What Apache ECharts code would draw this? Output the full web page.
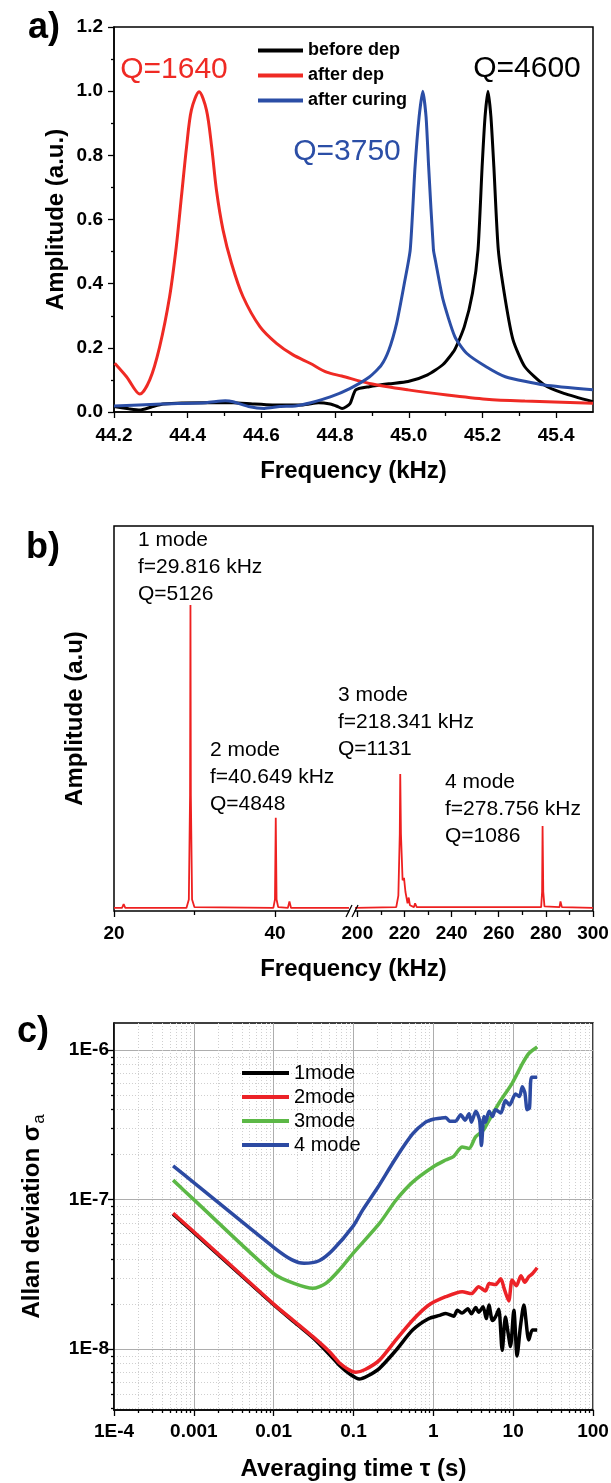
<!DOCTYPE html>
<html>
<head>
<meta charset="utf-8">
<title>Resonance spectra and Allan deviation</title>
<script src="https://cdn.jsdelivr.net/npm/echarts@6.0.0/dist/echarts.min.js"></script>
<style>
html, body { margin: 0; padding: 0; background: #fff; }
#chart { width: 611px; height: 1483px; }
</style>
</head>
<body>
<div id="chart"></div>
<script>
// ---------------------------------------------- data
// a) amplitude vs frequency (kHz)
var aBeforeDep = [[44.2,0.017],[44.24,0.01],[44.27,0.006],[44.3,0.015],[44.333,0.025],[44.45,0.029],[44.523,0.029],[44.576,0.025],[44.63,0.022],[44.713,0.022],[44.755,0.029],[44.787,0.025],[44.805,0.018],[44.819,0.011],[44.84,0.025],[44.856,0.069],[44.893,0.079],[44.946,0.088],[44.998,0.095],[45.051,0.116],[45.093,0.148],[45.125,0.195],[45.151,0.267],[45.173,0.371],[45.188,0.506],[45.199,0.763],[45.207,0.92],[45.215,1.0],[45.223,0.92],[45.231,0.763],[45.243,0.505],[45.262,0.35],[45.283,0.225],[45.315,0.141],[45.368,0.084],[45.421,0.058],[45.5,0.032]];
var aAfterDep = [[44.202,0.152],[44.234,0.11],[44.27,0.056],[44.297,0.1],[44.324,0.204],[44.351,0.36],[44.369,0.515],[44.383,0.671],[44.397,0.827],[44.41,0.941],[44.431,0.998],[44.451,0.941],[44.465,0.827],[44.478,0.692],[44.496,0.567],[44.519,0.463],[44.55,0.36],[44.596,0.266],[44.641,0.214],[44.686,0.178],[44.732,0.152],[44.777,0.124],[44.818,0.112],[44.893,0.089],[44.998,0.069],[45.104,0.053],[45.21,0.04],[45.315,0.034],[45.5,0.027]];
var aAfterCuring = [[44.2,0.019],[44.33,0.025],[44.45,0.029],[44.502,0.035],[44.523,0.032],[44.565,0.017],[44.608,0.011],[44.65,0.017],[44.692,0.019],[44.734,0.029],[44.787,0.047],[44.84,0.073],[44.893,0.109],[44.925,0.145],[44.946,0.193],[44.967,0.276],[44.988,0.401],[45.004,0.506],[45.017,0.763],[45.028,0.919],[45.038,1.0],[45.047,0.919],[45.054,0.763],[45.067,0.505],[45.072,0.474],[45.093,0.35],[45.125,0.235],[45.157,0.183],[45.21,0.141],[45.262,0.11],[45.368,0.084],[45.5,0.069]];
var aXMajor = [44.2, 44.4, 44.6, 44.8, 45.0, 45.2, 45.4];
var aXMinor = [44.3, 44.5, 44.7, 44.9, 45.1, 45.3];

// b) spectrum, split frequency axis (kHz)
var bLow = [[20,0.008],[21.0,0.008],[21.2,0.018],[21.4,0.008],[29.0,0.008],[29.3,0.03],[29.45,0.3],[29.5,0.795],[29.55,0.3],[29.7,0.03],[30.0,0.01],[39.8,0.008],[40.0,0.03],[40.1,0.242],[40.2,0.03],[40.4,0.01],[41.6,0.008],[41.8,0.025],[42.0,0.008],[49.2,0.008]];
var bHigh = [[199,0.008],[216.5,0.01],[217.4,0.04],[218.0,0.2],[218.2,0.356],[218.5,0.2],[219.2,0.08],[219.8,0.086],[220.4,0.05],[221.3,0.02],[221.8,0.035],[222.3,0.015],[224.0,0.01],[224.5,0.02],[225.2,0.01],[278.0,0.01],[278.4,0.05],[278.6,0.221],[278.9,0.05],[279.4,0.012],[285.8,0.01],[286.2,0.025],[286.8,0.01],[300,0.008]];
var bLowMajor = [20, 40];
var bLowMinor = [30];
var bHighMajor = [200, 220, 240, 260, 280, 300];
var bHighMinor = [210, 230, 250, 270, 290];

// c) Allan deviation vs averaging time (s)
var c1mode = [[5.5e-4,8.0e-8],[1e-3,6.0e-8],[0.01,1.98e-8],[0.02,1.45e-8],[0.031,1.19e-8],[0.05,9.2e-9],[0.068,7.7e-9],[0.09,6.8e-9],[0.118,6.3e-9],[0.15,6.6e-9],[0.21,7.4e-9],[0.34,9.8e-9],[0.55,1.34e-8],[0.88,1.6e-8],[1.2,1.68e-8],[1.43,1.73e-8],[1.8,1.66e-8],[2.0,1.82e-8],[2.3,1.74e-8],[2.7,1.86e-8],[3.0,1.72e-8],[3.4,1.9e-8],[3.7,1.76e-8],[4.2,1.92e-8],[4.6,1.6e-8],[4.97,1.97e-8],[5.5,1.55e-8],[6.0,1.64e-8],[6.6,1.85e-8],[7.29,9.8e-9],[8.0,1.64e-8],[8.6,1.3e-8],[9.26,1.04e-8],[10.2,1.82e-8],[11.2,9.0e-9],[12.3,1.4e-8],[13.6,1.97e-8],[15.7,1.15e-8],[17.4,1.34e-8],[20,1.34e-8]];
var c2mode = [[5.5e-4,8.1e-8],[1e-3,6.1e-8],[0.01,2.0e-8],[0.02,1.47e-8],[0.031,1.21e-8],[0.05,9.6e-9],[0.068,8.0e-9],[0.09,7.2e-9],[0.107,7.0e-9],[0.14,7.3e-9],[0.21,8.4e-9],[0.34,1.15e-8],[0.55,1.56e-8],[0.88,1.97e-8],[1.43,2.24e-8],[2.3,2.42e-8],[3.0,2.35e-8],[3.7,2.61e-8],[4.5,2.45e-8],[5.0,2.75e-8],[6.0,2.7e-8],[7.0,2.95e-8],[7.7,2.55e-8],[8.8,2.1e-8],[9.7,2.9e-8],[11,2.65e-8],[12.5,3.1e-8],[14,2.8e-8],[15.7,3.05e-8],[17.5,3.2e-8],[20,3.5e-8]];
var c3mode = [[5.5e-4,1.35e-7],[1e-3,1.0e-7],[0.01,3.2e-8],[0.018,2.75e-8],[0.031,2.55e-8],[0.045,2.75e-8],[0.067,3.4e-8],[0.1,4.4e-8],[0.21,6.9e-8],[0.34,9.9e-8],[0.55,1.31e-7],[1.0,1.66e-7],[1.43,1.84e-7],[1.8,1.95e-7],[2.3,2.25e-7],[2.8,2.2e-7],[3.38,2.63e-7],[4.2,2.9e-7],[5.0,3.4e-7],[6.6,4.4e-7],[9.7,6.0e-7],[13,8.1e-7],[15.7,9.5e-7],[20,1.05e-6]];
var c4mode = [[5.5e-4,1.68e-7],[1e-3,1.3e-7],[0.01,4.8e-8],[0.017,3.95e-8],[0.024,3.75e-8],[0.037,3.9e-8],[0.055,4.6e-8],[0.1,6.7e-8],[0.13,8.5e-8],[0.2,1.2e-7],[0.34,1.9e-7],[0.55,2.75e-7],[0.8,3.3e-7],[1.0,3.45e-7],[1.2,3.5e-7],[1.43,3.55e-7],[1.6,3.35e-7],[1.9,3.35e-7],[2.2,3.7e-7],[2.5,3.4e-7],[2.8,3.75e-7],[3.0,3.3e-7],[3.4,3.9e-7],[3.8,3.4e-7],[4.0,2.3e-7],[4.3,3.6e-7],[4.5,3.3e-7],[5.0,3.9e-7],[5.5,3.6e-7],[6.0,4.0e-7],[7.0,3.8e-7],[8.0,4.6e-7],[9.0,4.3e-7],[10.7,5.1e-7],[12,4.9e-7],[13,5.7e-7],[14,5.2e-7],[15,4.0e-7],[16,4.1e-7],[17,6.6e-7],[20,6.6e-7]];
var cXMajor = [1e-4, 1e-3, 1e-2, 0.1, 1, 10, 100];
var cXLabels = ['1E-4', '0.001', '0.01', '0.1', '1', '10', '100'];
var cYMajor = [1e-8, 1e-7, 1e-6];
var cYLabels = ['1E-8', '1E-7', '1E-6'];
var cMinorSteps = [2, 3, 4, 5, 6, 7, 8, 9];
var cXDecades = [-4, -3, -2, -1, 0, 1];
var cYDecades = [-9, -8, -7];

// ---------------------------------------------- helpers
var FONT = '"Liberation Sans", Arial, Helvetica, sans-serif';
var cYMin = 3.91e-9, cYMax = 1.52e-6;

function minorValues(decades, lo, hi) {
    var out = [];
    decades.forEach(function (d) {
        cMinorSteps.forEach(function (m) {
            var v = m * Math.pow(10, d);
            if (v > lo && v < hi) out.push(v);
        });
    });
    return out;
}
var cXMinor = minorValues(cXDecades, 1e-4, 100);
var cYMinor = minorValues(cYDecades, cYMin, cYMax);

function axis(gridIndex, extra) {
    var o = {
        gridIndex: gridIndex,
        nameMoveOverlap: false,
        axisLine: { show: false, onZero: false },
        axisTick: { show: false },
        axisLabel: { show: false },
        splitLine: { show: false },
        minorTick: { show: false },
        minorSplitLine: { show: false }
    };
    for (var k in extra) o[k] = extra[k];
    return o;
}
function ticks(values, len) {
    return { show: true, inside: false, length: len, customValues: values,
             lineStyle: { color: '#000', width: 1.3 } };
}
function labels(values, margin, formatter) {
    return { show: true, customValues: values, margin: margin, color: '#000',
             fontSize: 19, fontWeight: 'bold', fontFamily: FONT, formatter: formatter };
}
function title(size) {
    return { fontSize: size, fontWeight: 'bold', color: '#000', fontFamily: FONT };
}
var blackLine = { show: true, onZero: false, lineStyle: { color: '#000', width: 1.5 } };
var frame = { show: true, borderColor: '#000', borderWidth: 1.5, backgroundColor: 'transparent' };
function fixed1(v) { return v.toFixed(1); }

// ---------------------------------------------- chart
var myChart = echarts.init(document.getElementById('chart'));
var option = {
    backgroundColor: '#fff',
    animation: false,
    grid: [
        Object.assign({ left: 114, top: 27, width: 479, height: 385, outerBoundsMode: 'none' }, frame),
        { left: 114, top: 526, width: 235, height: 385, outerBoundsMode: 'none' },
        { left: 355, top: 526, width: 238, height: 385, outerBoundsMode: 'none' },
        Object.assign({ left: 114, top: 526, width: 479, height: 385, outerBoundsMode: 'none' }, frame),
        Object.assign({ left: 114, top: 1023, width: 479, height: 387, outerBoundsMode: 'none' }, frame)
    ],
    xAxis: [
        axis(0, { type: 'value', position: 'bottom', min: 44.2, max: 45.5, axisLine: blackLine,
            axisTick: ticks(aXMajor, 6), axisLabel: labels(aXMajor, 14, fixed1),
            name: 'Frequency (kHz)', nameLocation: 'middle', nameGap: 47, nameTextStyle: title(24) }),
        axis(0, { type: 'value', position: 'bottom', min: 44.2, max: 45.5, axisTick: ticks(aXMinor, 4) }),
        axis(1, { type: 'value', position: 'bottom', min: 20, max: 49.2,
            axisTick: ticks(bLowMajor, 6), axisLabel: labels(bLowMajor, 13) }),
        axis(1, { type: 'value', position: 'bottom', min: 20, max: 49.2, axisTick: ticks(bLowMinor, 4) }),
        axis(2, { type: 'value', position: 'bottom', min: 199, max: 300,
            axisTick: ticks(bHighMajor, 6), axisLabel: labels(bHighMajor, 13) }),
        axis(2, { type: 'value', position: 'bottom', min: 199, max: 300, axisTick: ticks(bHighMinor, 4) }),
        axis(3, { type: 'value', position: 'bottom', min: 0, max: 1,
            name: 'Frequency (kHz)', nameLocation: 'middle', nameGap: 46, nameTextStyle: title(24) }),
        axis(4, { type: 'log', logBase: 10, position: 'bottom', min: 1e-4, max: 100, axisLine: blackLine,
            axisTick: ticks(cXMajor, 6),
            axisLabel: labels(cXMajor, 12, function (v) { return cXLabels[Math.round(Math.log10(v)) + 4]; }),
            splitLine: { show: true, lineStyle: { color: '#adadad', width: 1 } },
            name: 'Averaging time \u03c4 (s)', nameLocation: 'middle', nameGap: 47, nameTextStyle: title(24) }),
        axis(4, { type: 'log', logBase: 10, position: 'bottom', min: 1e-4, max: 100,
            axisTick: ticks(cXMinor, 3),
            splitLine: { show: true, lineStyle: { color: '#cfcfcf', width: 1, type: [1, 2] } } })
    ],
    yAxis: [
        axis(0, { type: 'value', position: 'left', min: 0, max: 1.2, interval: 0.2, axisLine: blackLine,
            axisTick: { show: true, inside: false, length: 6, lineStyle: { color: '#000', width: 1.3 } },
            minorTick: { show: true, splitNumber: 2, length: 3, lineStyle: { color: '#000', width: 1.3 } },
            axisLabel: { show: true, margin: 11, color: '#000', fontSize: 19, fontWeight: 'bold',
                fontFamily: FONT, formatter: fixed1 },
            name: 'Amplitude (a.u.)', nameLocation: 'middle', nameGap: 46, nameTextStyle: title(24) }),
        axis(1, { type: 'value', position: 'left', min: 0, max: 1,
            name: 'Amplitude (a.u)', nameLocation: 'middle', nameGap: 27, nameTextStyle: title(24) }),
        axis(2, { type: 'value', position: 'left', min: 0, max: 1 }),
        axis(3, { type: 'value', position: 'left', min: 0, max: 1 }),
        axis(4, { type: 'log', logBase: 10, position: 'left', min: cYMin, max: cYMax, axisLine: blackLine,
            axisTick: ticks(cYMajor, 6),
            axisLabel: labels(cYMajor, 5, function (v) { return cYLabels[Math.round(Math.log10(v)) + 8]; }),
            splitLine: { show: true, lineStyle: { color: '#adadad', width: 1 } },
            name: 'Allan deviation \u03c3{s|a}', nameLocation: 'middle', nameGap: 66,
            nameTextStyle: Object.assign(title(24), {
                rich: { s: { fontSize: 17, fontWeight: 'normal', fontFamily: FONT, color: '#000',
                             padding: [14, 0, 0, 1] } }
            }) }),
        axis(4, { type: 'log', logBase: 10, position: 'left', min: cYMin, max: cYMax,
            axisTick: ticks(cYMinor, 3),
            splitLine: { show: true, lineStyle: { color: '#cfcfcf', width: 1, type: [1, 2] } } })
    ],
    legend: [
        {
            data: ['before dep', 'after dep', 'after curing'],
            orient: 'vertical', left: 253, top: 36, icon: 'rect',
            itemWidth: 45, itemHeight: 4, itemGap: 6, selectedMode: false,
            textStyle: { fontSize: 18, fontWeight: 'bold', color: '#000', fontFamily: FONT,
                         lineHeight: 19, padding: [0, 0, 0, 0] }
        },
        {
            data: ['1mode', '2mode', '3mode', '4 mode'],
            orient: 'vertical', left: 237, top: 1058, icon: 'rect',
            itemWidth: 47, itemHeight: 4, itemGap: 4, selectedMode: false,
            textStyle: { fontSize: 20, color: '#000', fontFamily: FONT,
                         lineHeight: 20, padding: [0, 0, 0, 0] }
        }
    ],
    series: [
        { name: 'before dep', type: 'line', xAxisIndex: 0, yAxisIndex: 0, data: aBeforeDep,
          symbol: 'none', smooth: 0.2, color: '#000', lineStyle: { width: 3, color: '#000' } },
        { name: 'after dep', type: 'line', xAxisIndex: 0, yAxisIndex: 0, data: aAfterDep,
          symbol: 'none', smooth: 0.3, color: '#ef2a24', lineStyle: { width: 3, color: '#ef2a24' } },
        { name: 'after curing', type: 'line', xAxisIndex: 0, yAxisIndex: 0, data: aAfterCuring,
          symbol: 'none', smooth: 0.2, color: '#2b4ea6', lineStyle: { width: 3, color: '#2b4ea6' } },
        { name: 'spectrum low', type: 'line', xAxisIndex: 2, yAxisIndex: 1, data: bLow,
          symbol: 'none', color: '#ee2020', lineStyle: { width: 1.8, color: '#ee2020' } },
        { name: 'spectrum high', type: 'line', xAxisIndex: 4, yAxisIndex: 2, data: bHigh,
          symbol: 'none', color: '#ee2020', lineStyle: { width: 1.8, color: '#ee2020' } },
        { name: '1mode', type: 'line', xAxisIndex: 7, yAxisIndex: 4, data: c1mode,
          symbol: 'none', smooth: 0.25, color: '#000', lineStyle: { width: 3.5, color: '#000' } },
        { name: '2mode', type: 'line', xAxisIndex: 7, yAxisIndex: 4, data: c2mode,
          symbol: 'none', smooth: 0.25, color: '#ec2227', lineStyle: { width: 3.5, color: '#ec2227' } },
        { name: '3mode', type: 'line', xAxisIndex: 7, yAxisIndex: 4, data: c3mode,
          symbol: 'none', smooth: 0.25, color: '#5cb846', lineStyle: { width: 3.5, color: '#5cb846' } },
        { name: '4 mode', type: 'line', xAxisIndex: 7, yAxisIndex: 4, data: c4mode,
          symbol: 'none', smooth: 0.25, color: '#2c4aa2', lineStyle: { width: 3.5, color: '#2c4aa2' } }
    ],
    graphic: [
        { type: 'text', x: 44, y: 28, z: 100, style: { text: 'a)', fontSize: 36, fontWeight: 'bold', fontFamily: FONT, fill: '#000', align: 'center', verticalAlign: 'middle' } },
        { type: 'text', x: 43, y: 548, z: 100, style: { text: 'b)', fontSize: 36, fontWeight: 'bold', fontFamily: FONT, fill: '#000', align: 'center', verticalAlign: 'middle' } },
        { type: 'text', x: 33, y: 1032, z: 100, style: { text: 'c)', fontSize: 36, fontWeight: 'bold', fontFamily: FONT, fill: '#000', align: 'center', verticalAlign: 'middle' } },
        { type: 'text', x: 174, y: 70, z: 100, style: { text: 'Q=1640', fontSize: 30, fontFamily: FONT, fill: '#ef2a24', align: 'center', verticalAlign: 'middle' } },
        { type: 'text', x: 527, y: 69, z: 100, style: { text: 'Q=4600', fontSize: 30, fontFamily: FONT, fill: '#000', align: 'center', verticalAlign: 'middle' } },
        { type: 'text', x: 347, y: 152, z: 100, style: { text: 'Q=3750', fontSize: 30, fontFamily: FONT, fill: '#2b4ea6', align: 'center', verticalAlign: 'middle' } },
        { type: 'text', x: 138, y: 527, z: 100, style: { text: '1 mode\nf=29.816 kHz\nQ=5126', fontSize: 21, lineHeight: 26.7, fontFamily: FONT, fill: '#000', align: 'left', verticalAlign: 'top' } },
        { type: 'text', x: 210, y: 737, z: 100, style: { text: '2 mode\nf=40.649 kHz\nQ=4848', fontSize: 21, lineHeight: 26.7, fontFamily: FONT, fill: '#000', align: 'left', verticalAlign: 'top' } },
        { type: 'text', x: 338, y: 682, z: 100, style: { text: '3 mode\nf=218.341 kHz\nQ=1131', fontSize: 21, lineHeight: 26.7, fontFamily: FONT, fill: '#000', align: 'left', verticalAlign: 'top' } },
        { type: 'text', x: 445, y: 769, z: 100, style: { text: '4 mode\nf=278.756 kHz\nQ=1086', fontSize: 21, lineHeight: 26.7, fontFamily: FONT, fill: '#000', align: 'left', verticalAlign: 'top' } },
        // axis break mark
        { type: 'rect', z: 100, shape: { x: 349.5, y: 905, width: 5, height: 12 }, style: { fill: '#fff' } },
        { type: 'line', z: 101, shape: { x1: 346, y1: 917, x2: 352, y2: 905 }, style: { stroke: '#000', lineWidth: 1.3 } },
        { type: 'line', z: 101, shape: { x1: 352, y1: 917, x2: 358, y2: 905 }, style: { stroke: '#000', lineWidth: 1.3 } }
    ]
};
myChart.setOption(option);
</script>
</body>
</html>
